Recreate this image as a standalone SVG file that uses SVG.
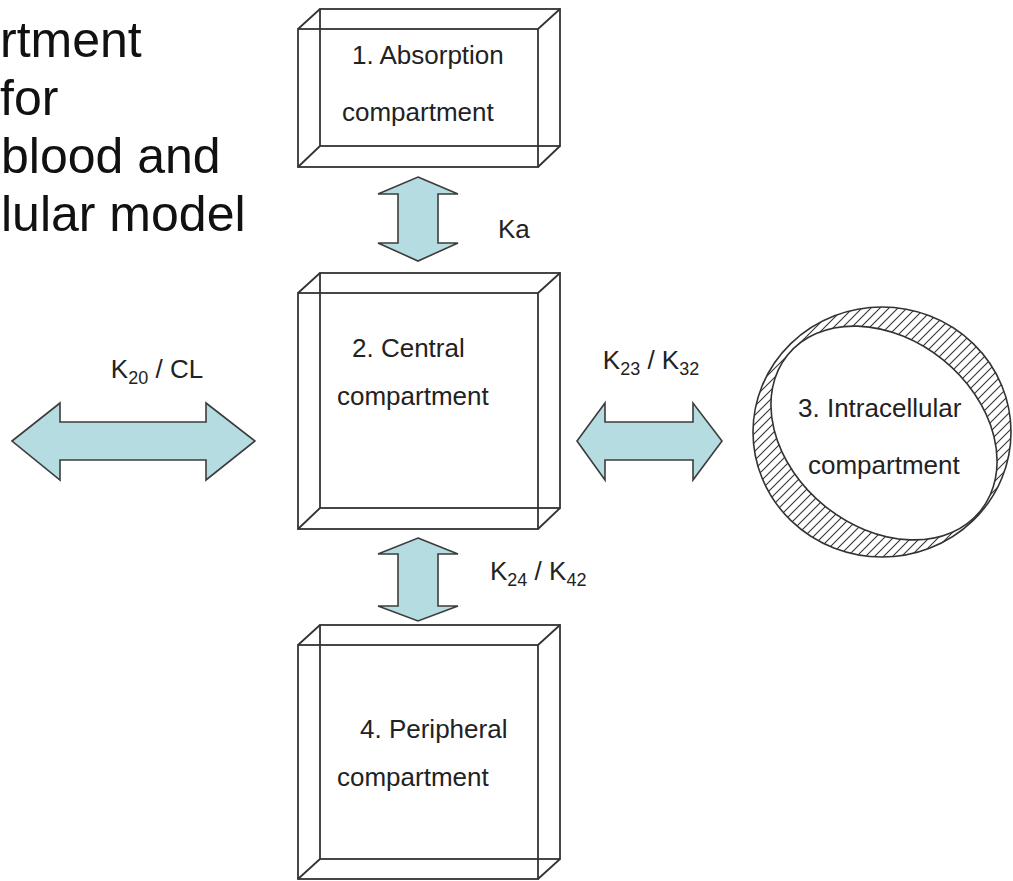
<svg xmlns="http://www.w3.org/2000/svg" width="1013" height="881" viewBox="0 0 1013 881">
<style>
.box{fill:none;stroke:#333;stroke-width:1.8}
.arr{fill:#b5dce0;stroke:#3c3c3c;stroke-width:1.6;stroke-linejoin:miter}
.t{font-family:"Liberation Sans",Arial,sans-serif;font-size:26px;fill:#222}
.lbl{font-family:"Liberation Sans",Arial,sans-serif;font-size:26px;fill:#222}
.title{font-family:"Liberation Sans",Arial,sans-serif;font-size:50px;fill:#111}
</style>
<defs>
<pattern id="hatch" patternUnits="userSpaceOnUse" width="9" height="9">
<path d="M0,9 L9,0 M-2,2 L2,-2 M7,11 L11,7" stroke="#333" stroke-width="1.1"/>
</pattern>
</defs>
<rect width="1013" height="881" fill="#fff"/>
<g id="title">
<text class="title" x="0" y="57">rtment</text>
<text class="title" x="0" y="115">for</text>
<text class="title" x="1" y="173">blood and</text>
<text class="title" x="1" y="231">lular model</text>
</g>
<g id="node1">
<rect class="box" x="298" y="29" width="240" height="138"/>
<rect class="box" x="320" y="9" width="240" height="137"/>
<path class="box" d="M298,29 L320,9 M538,29 L560,9 M298,167 L320,146 M538,167 L560,146"/>
<text class="t" x="352" y="64">1. Absorption</text>
<text class="t" x="342" y="121">compartment</text>
</g>
<g id="node2">
<rect class="box" x="298" y="293" width="240" height="236"/>
<rect class="box" x="320" y="273" width="240" height="235"/>
<path class="box" d="M298,293 L320,273 M538,293 L560,273 M298,529 L320,508 M538,529 L560,508"/>
<text class="t" x="352" y="357">2. Central</text>
<text class="t" x="337" y="405">compartment</text>
</g>
<g id="node4">
<rect class="box" x="298" y="645" width="240" height="234"/>
<rect class="box" x="320" y="625" width="240" height="234"/>
<path class="box" d="M298,645 L320,625 M538,645 L560,625 M298,879 L320,859 M538,879 L560,859"/>
<text class="t" x="360" y="738">4. Peripheral</text>
<text class="t" x="337" y="786">compartment</text>
</g>
<g id="node3">
<ellipse cx="882" cy="432" rx="129" ry="125" fill="url(#hatch)" stroke="#333" stroke-width="1.6"/>
<ellipse cx="884" cy="433" rx="124" ry="94" transform="rotate(39 884 433)" fill="#fff" stroke="#333" stroke-width="1.6"/>
<text class="t" x="798" y="417">3. Intracellular</text>
<text class="t" x="808" y="474">compartment</text>
</g>
<g id="connectors">
<path class="arr" d="M12,441 L60,403 L60,422 L206,422 L206,403 L255,441 L206,480 L206,460 L60,460 L60,480 Z"/>
<path class="arr" d="M577,441 L605,403 L605,422 L693,422 L693,403 L722,441 L693,480 L693,460 L605,460 L605,480 Z"/>
<path class="arr" d="M418,177 L458,194 L438,194 L438,243 L458,243 L418,261 L378,243 L398,243 L398,194 L378,194 Z"/>
<path class="arr" d="M418,538 L458,554 L438,554 L438,606 L458,606 L418,621 L378,606 L398,606 L398,554 L378,554 Z"/>
<text class="lbl" x="498" y="238">Ka</text>
<text class="lbl" x="157" y="378" text-anchor="middle">K<tspan font-size="18" dy="6">20</tspan><tspan dy="-6"> / CL</tspan></text>
<text class="lbl" x="651" y="369" text-anchor="middle">K<tspan font-size="18" dy="6">23</tspan><tspan dy="-6"> / K</tspan><tspan font-size="18" dy="6">32</tspan></text>
<text class="lbl" x="490" y="580">K<tspan font-size="18" dy="6">24</tspan><tspan dy="-6"> / K</tspan><tspan font-size="18" dy="6">42</tspan></text>
</g>
</svg>
